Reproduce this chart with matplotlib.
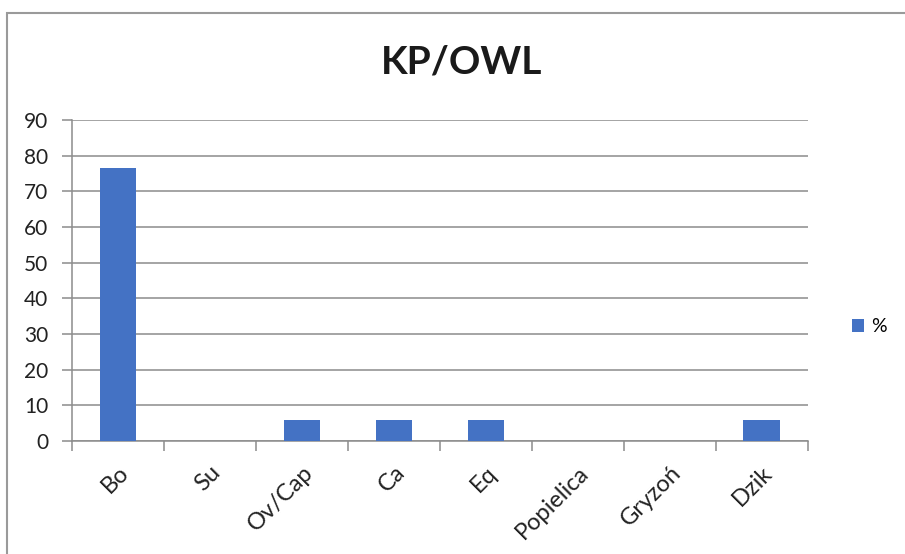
import matplotlib.pyplot as plt
from matplotlib.patches import Rectangle

# dane
kategorie = ['Bo', 'Su', 'Ov/Cap', 'Ca', 'Eq', 'Popielica', 'Gryzoń', 'Dzik']
procent = [76.5, 0, 5.9, 5.9, 5.9, 0, 0, 5.9]
y_ticks = [0, 10, 20, 30, 40, 50, 60, 70, 80, 90]

plt.rcParams['font.family'] = ['Lato', 'DejaVu Sans']

fig = plt.figure(figsize=(9.05, 5.54), dpi=100)
ax = fig.add_axes([0.0796, 0.204, 0.813, 0.579])

szary = '#8c8c8c'
x = range(len(kategorie))
ax.bar(x, procent, width=0.4, color='#4472C4', label='%', zorder=3)

ax.set_xlim(-0.5, len(kategorie) - 0.5)
ax.set_ylim(0, 90)
ax.set_yticks(y_ticks)
ax.yaxis.grid(True, color=szary, linewidth=1.1, zorder=0)

# znaczniki osi X na granicach kategorii
ax.set_xticks([i - 0.5 for i in range(len(kategorie) + 1)])
ax.set_xticklabels([])
ax.set_xticks(list(x), kategorie, minor=True, fontsize=17, color='#222222',
              rotation=45, ha='right', va='top', rotation_mode='anchor')
ax.tick_params(axis='x', which='minor', length=0, pad=15)
ax.tick_params(axis='x', which='major', length=7, color=szary, width=1.1)
ax.tick_params(axis='y', length=7, color=szary, width=1.1, labelsize=15, pad=10,
               labelcolor='#222222')

for s in ['top', 'right']:
    ax.spines[s].set_visible(False)
for s in ['left', 'bottom']:
    ax.spines[s].set_color(szary)
    ax.spines[s].set_linewidth(1.1)

fig.text(0.51, 0.888, 'KP/OWL', ha='center', va='center', fontsize=28, fontweight='bold',
         color='#1a1a1a')

ax.legend(loc='center left', bbox_to_anchor=(0.922, 0.41), bbox_transform=fig.transFigure,
          frameon=False, fontsize=14, handlelength=0.6, handleheight=0.6, handletextpad=0.4)

# ramka wykresu
fig.patches.append(Rectangle((7 / 905, -0.01), 1.0, 1 - 13 / 554 + 0.01,
                             transform=fig.transFigure, fill=False,
                             edgecolor='#9a9a9a', linewidth=1.5))

plt.savefig('out.png', dpi=100)
